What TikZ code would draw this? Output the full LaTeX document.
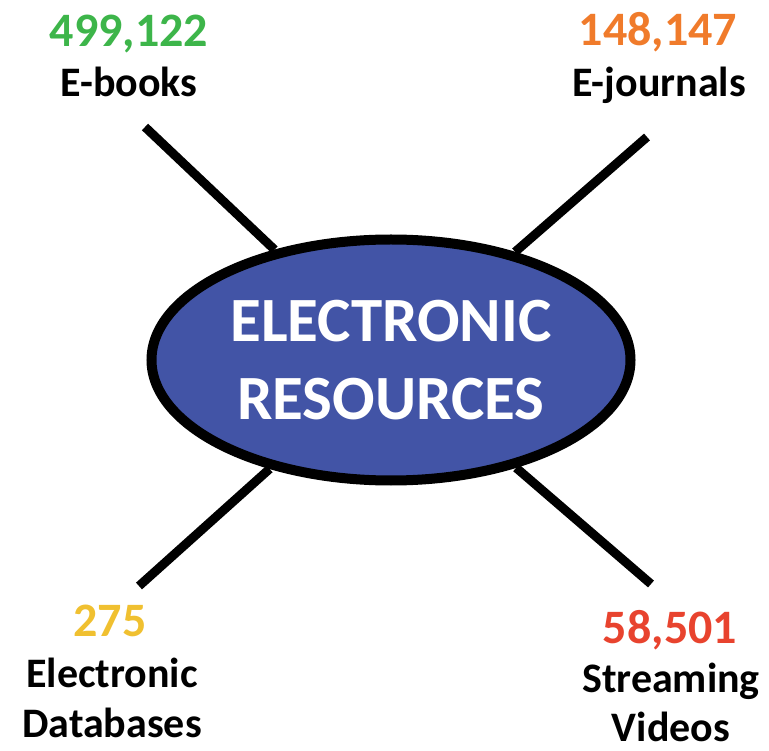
\documentclass[tikz,border=0pt]{standalone}
\usepackage{fontspec}
\setmainfont{Carlito}
\usetikzlibrary{shapes.geometric}
\definecolor{resblue}{RGB}{66,84,166}
\definecolor{bookgreen}{RGB}{61,181,74}
\definecolor{journalorange}{RGB}{240,123,43}
\definecolor{dbyellow}{RGB}{240,192,48}
\definecolor{videored}{RGB}{232,67,46}
\tikzset{
  count/.style={anchor=base,inner sep=0pt,font=\fontsize{48}{50}\selectfont\bfseries},
  kind/.style={anchor=base,inner sep=0pt,font=\fontsize{42}{50}\selectfont\bfseries},
  spoke/.style={line width=9pt}
}

\begin{document}
\begin{tikzpicture}[x=1pt,y=-1pt]
\useasboundingbox (0,0) rectangle (769,751);
% centre
\node (res) [ellipse,draw,fill=resblue,line width=10pt,inner sep=0pt,
  minimum width=479pt,minimum height=241pt,text=white,align=center,
  font=\fontsize{63}{78}\selectfont\bfseries] at (391,360) {ELECTRONIC\\RESOURCES};
% outer ends of the spokes
\coordinate (ebk) at (145,127);
\coordinate (ejr) at (647,137);
\coordinate (edb) at (139,586);
\coordinate (evd) at (651,584);
\draw[spoke] (ebk) -- (res);
\draw[spoke] (ejr) -- (res);
\draw[spoke] (edb) -- (res);
\draw[spoke] (evd) -- (res);
% counts and kinds
\node (nbk) [count,text=bookgreen] at (129,47) {499,122};
\node (lbk) [kind] at (129,97) {E-books};
\node (njr) [count,text=journalorange] at (658,46) {148,147};
\node (ljr) [kind] at (659,97) {E-journals};
\node (ndb) [count,text=dbyellow] at (110,636) {275};
\node (ldb) [kind] at (112,687) {Electronic};
\node (ldb2) [kind] at (112,737) {Databases};
\node (nvd) [count,text=videored] at (670,643) {58,501};
\node (lvd) [kind] at (671,692) {Streaming};
\node (lvd2) [kind] at (671,741) {Videos};
\end{tikzpicture}
\end{document}
